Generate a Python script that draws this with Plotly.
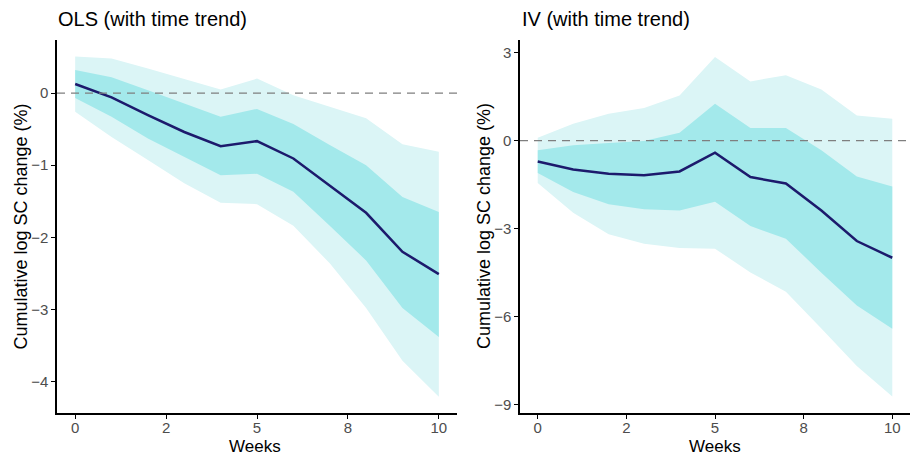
import plotly.graph_objects as go

weeks = [0, 1, 2, 3, 4, 5, 6, 7, 8, 9, 10]
x_tickvals = [0, 2.5, 5, 7.5, 10]
x_ticktext = ["0", "2", "5", "8", "10"]

# OLS (with time trend)
ols_est = [0.125, -0.06, -0.305, -0.54, -0.736, -0.667, -0.907, -1.28, -1.66, -2.20, -2.51]
ols_in_lo = [-0.07, -0.33, -0.63, -0.88, -1.14, -1.12, -1.37, -1.84, -2.32, -2.98, -3.38]
ols_in_hi = [0.32, 0.22, 0.04, -0.14, -0.33, -0.22, -0.43, -0.72, -1.00, -1.44, -1.65]
ols_out_lo = [-0.26, -0.61, -0.93, -1.25, -1.52, -1.54, -1.84, -2.36, -2.98, -3.71, -4.21]
ols_out_hi = [0.505, 0.48, 0.34, 0.20, 0.05, 0.20, -0.03, -0.19, -0.35, -0.71, -0.815]
ols_yticks = [-4, -3, -2, -1, 0]

# IV (with time trend)
iv_est = [-0.71, -0.98, -1.13, -1.18, -1.05, -0.41, -1.24, -1.46, -2.38, -3.42, -3.99]
iv_in_lo = [-1.10, -1.75, -2.17, -2.34, -2.38, -2.08, -2.91, -3.34, -4.50, -5.62, -6.41]
iv_in_hi = [-0.33, -0.16, -0.08, -0.01, 0.27, 1.26, 0.43, 0.43, -0.33, -1.22, -1.56]
iv_out_lo = [-1.44, -2.46, -3.19, -3.51, -3.66, -3.68, -4.49, -5.15, -6.40, -7.68, -8.72]
iv_out_hi = [0.10, 0.58, 0.92, 1.11, 1.54, 2.85, 2.02, 2.23, 1.74, 0.86, 0.75]
iv_yticks = [-9, -6, -3, 0, 3]

LIGHT = "#dbf5f6"
DARK = "#a3e9eb"
LINE = "#1c1a6c"
FONT = "Liberation Sans, Arial, sans-serif"

W, H = 910, 457
fig = go.Figure()

def add_panel(xa, ya, est, ilo, ihi, olo, ohi):
    fig.add_trace(go.Scatter(x=weeks, y=olo, mode="lines", line=dict(width=0),
                             xaxis=xa, yaxis=ya, showlegend=False, hoverinfo="skip"))
    fig.add_trace(go.Scatter(x=weeks, y=ohi, mode="lines", line=dict(width=0),
                             fill="tonexty", fillcolor=LIGHT,
                             xaxis=xa, yaxis=ya, showlegend=False, hoverinfo="skip"))
    fig.add_trace(go.Scatter(x=weeks, y=ilo, mode="lines", line=dict(width=0),
                             xaxis=xa, yaxis=ya, showlegend=False, hoverinfo="skip"))
    fig.add_trace(go.Scatter(x=weeks, y=ihi, mode="lines", line=dict(width=0),
                             fill="tonexty", fillcolor=DARK,
                             xaxis=xa, yaxis=ya, showlegend=False, hoverinfo="skip"))
    fig.add_trace(go.Scatter(x=weeks, y=est, mode="lines",
                             line=dict(color=LINE, width=2.5),
                             xaxis=xa, yaxis=ya, showlegend=False))

add_panel("x", "y", ols_est, ols_in_lo, ols_in_hi, ols_out_lo, ols_out_hi)
add_panel("x2", "y2", iv_est, iv_in_lo, iv_in_hi, iv_out_lo, iv_out_hi)

top = 1 - 40 / H
bot = 1 - 413 / H

xcommon = dict(tickvals=x_tickvals, ticktext=x_ticktext, range=[-0.5, 10.5],
               showline=True, linecolor="black", linewidth=1.5, ticks="outside",
               ticklen=4, tickwidth=1.2, tickcolor="black", showgrid=False, zeroline=False,
               tickfont=dict(size=15, color="#4d4d4d", family=FONT),
               ticklabelstandoff=-4, automargin=False)
ycommon = dict(showline=True, linecolor="black", linewidth=1.5, ticks="outside",
               ticklen=4, tickwidth=1.2, tickcolor="black", showgrid=False, zeroline=False,
               tickfont=dict(size=15, color="#4d4d4d", family=FONT),
               automargin=False)

fig.update_layout(
    width=W, height=H,
    margin=dict(l=0, r=0, t=0, b=0),
    paper_bgcolor="white", plot_bgcolor="white",
    font=dict(family=FONT),
    xaxis=dict(domain=[57 / W, 457 / W], anchor="y", **xcommon),
    yaxis=dict(domain=[bot, top], anchor="x", range=[-4.435, 0.735], tickvals=ols_yticks,
               ticktext=[str(v).replace("-", "\u2212") for v in ols_yticks], **ycommon),
    xaxis2=dict(domain=[520 / W, 1.0], anchor="y2", **xcommon),
    yaxis2=dict(domain=[bot, top], anchor="x2", range=[-9.28, 3.43], tickvals=iv_yticks,
                ticktext=[str(v).replace("-", "\u2212") for v in iv_yticks], **ycommon),
)

for xr, yr in [("x", "y"), ("x2", "y2")]:
    fig.add_shape(type="line", xref=xr + " domain", yref=yr, x0=0, x1=1, y0=0, y1=0,
                  line=dict(color="#7f7f7f", width=1.3, dash="8px,6px"), layer="above")

ymid = 1 - 226.5 / H
for title, tx, ytx, wx in [("OLS (with time trend)", 56, 20, 255),
                           ("IV (with time trend)", 520, 483.5, 715)]:
    fig.add_annotation(text=title, xref="paper", yref="paper",
                       x=tx / W, y=1 - 19 / H, xanchor="left", yanchor="middle", showarrow=False,
                       font=dict(size=20, color="black", family=FONT))
    fig.add_annotation(text="Cumulative log SC change (%)", xref="paper", yref="paper",
                       x=ytx / W, y=ymid, xanchor="center", yanchor="middle", textangle=-90,
                       showarrow=False, font=dict(size=18, color="black", family=FONT))
    fig.add_annotation(text="Weeks", xref="paper", yref="paper",
                       x=wx / W, y=1 - 446 / H, xanchor="center", yanchor="middle",
                       showarrow=False, font=dict(size=17, color="black", family=FONT))

fig.write_html("out.html", config={"displayModeBar": False},
               post_script="document.body.style.margin='0';document.body.style.padding='0';"
                           "document.documentElement.style.overflow='hidden';")
